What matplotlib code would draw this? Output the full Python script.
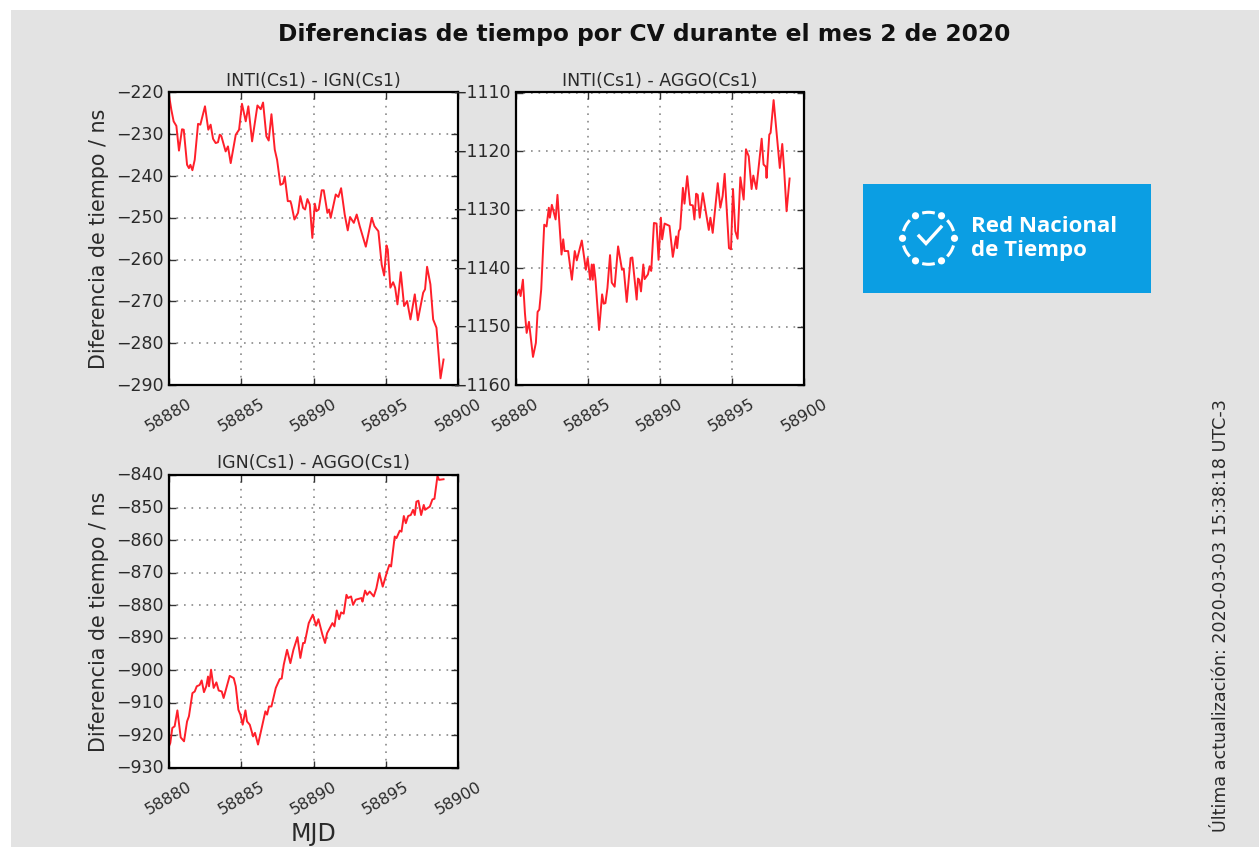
import numpy as np
import matplotlib
matplotlib.use('Agg')
import matplotlib.pyplot as plt
from matplotlib.patches import Rectangle, Circle, Arc
from matplotlib.transforms import ScaledTranslation

W, H = 1259, 847
MJD0 = 58880

titulo = 'Diferencias de tiempo por CV durante el mes 2 de 2020'
actualizacion = 'Última actualización: 2020-03-03 15:38:18 UTC-3'
xticks = [58880, 58885, 58890, 58895, 58900]

# dias desde MJD0, diferencia en ns
dias_a = [0, .16, .32, .51, .69, .90, 1.02, 1.25, 1.38, 1.48, 1.62, 1.78, 2.01, 2.17, 2.49, 2.72, 2.88, 3.05, 3.23, 3.39,
          3.51, 3.62, 3.92, 4.08, 4.27, 4.62, 4.85, 5.05, 5.31, 5.49, 5.75, 6.12, 6.35, 6.51, 6.74, 6.90, 7.09, 7.32, 7.48, 7.71,
          7.89, 8.01, 8.22, 8.40, 8.47, 8.68, 8.93, 9.09, 9.28, 9.42, 9.58, 9.74, 9.92, 10.09, 10.20, 10.36, 10.57, 10.71, 10.96, 11.08,
          11.19, 11.54, 11.72, 11.91, 12.16, 12.37, 12.53, 12.79, 12.99, 13.20, 13.62, 14.03, 14.22, 14.49, 14.72, 14.89, 15.05, 15.14, 15.32, 15.51,
          15.65, 15.81, 16.04, 16.27, 16.48, 16.71, 17.01, 17.22, 17.59, 17.72, 17.86, 18.09, 18.28, 18.51, 18.79, 19.0]
inti_ign = [-220.6, -224.1, -226.9, -228, -233.9, -228.8, -228.9, -237.3, -238.1, -237.3, -238.6, -236.1, -227.5, -227.7, -223.3, -228.9, -227.7, -231.1, -232.1, -231.9,
            -230.1, -230.4, -234.1, -232.9, -236.9, -230.1, -228.9, -222.7, -226.9, -223.3, -231.7, -223.1, -224, -222.4, -230.5, -231.5, -225.2, -233.7, -236.1, -242.1,
            -241.8, -240.1, -246, -246, -246.8, -250.4, -248.8, -244.8, -247.6, -248, -245.5, -246.8, -254.8, -246.6, -248.4, -248, -243.4, -243.4, -248.8, -248,
            -250, -244.4, -245, -242.9, -249.2, -253, -249.8, -251.2, -249.2, -252, -256.9, -250, -252, -253.2, -261.2, -263.8, -256.6, -257.6, -266.7, -265.4,
            -266.7, -270.7, -263, -271.1, -269.9, -274.3, -268.3, -274.5, -267.9, -267.1, -261.7, -265.9, -274.3, -276.3, -288.4, -283.9]

dias_b = [0, .23, .32, .48, .62, .74, .90, 1.18, 1.38, 1.50, 1.62, 1.75, 1.96, 2.12, 2.28, 2.35, 2.49, 2.75, 2.88, 3.16,
          3.28, 3.37, 3.62, 3.88, 4.08, 4.22, 4.57, 4.85, 4.98, 5.15, 5.26, 5.33, 5.40, 5.52, 5.77, 5.98, 6.09, 6.21, 6.35, 6.53,
          6.65, 6.85, 7.09, 7.36, 7.48, 7.69, 7.96, 8.08, 8.38, 8.47, 8.56, 8.68, 8.84, 8.93, 9.16, 9.28, 9.39, 9.58, 9.76, 9.90,
          10.06, 10.15, 10.32, 10.66, 10.89, 11.12, 11.19, 11.31, 11.40, 11.59, 11.70, 11.89, 12.09, 12.28, 12.39, 12.51, 12.62, 12.76, 12.97, 13.39,
          13.50, 13.66, 14.01, 14.19, 14.35, 14.49, 14.79, 14.93, 15.07, 15.23, 15.39, 15.58, 15.81, 15.97, 16.16, 16.36, 16.48, 16.69, 17.06, 17.19,
          17.35, 17.40, 17.59, 17.68, 17.89, 18.32, 18.49, 18.62, 18.79, 19.0]
inti_aggo = [-1144.8, -1143.7, -1144.8, -1142, -1147.7, -1151.1, -1149.2, -1155.2, -1152.8, -1147.5, -1147.1, -1143.7, -1132.6, -1132.9, -1129.7, -1131.4, -1129.2, -1131.7, -1127.5, -1137.7,
             -1135.1, -1137.1, -1137.1, -1142, -1137.1, -1138.7, -1135.3, -1140.3, -1138.3, -1142, -1139.4, -1142, -1139.4, -1142, -1150.6, -1144.5, -1146.1, -1146, -1143.4, -1137.8,
             -1142.5, -1143.2, -1136.3, -1140.3, -1140.1, -1145.8, -1138.3, -1138.2, -1145.4, -1141.8, -1142, -1144, -1139.4, -1141.9, -1141.1, -1139.7, -1140.5, -1132.3, -1132.4, -1138.6,
             -1131.4, -1135.1, -1132.4, -1132.8, -1138.1, -1134.6, -1136.6, -1133.7, -1133.3, -1126.3, -1129, -1124.3, -1129.2, -1129.3, -1131.7, -1127.3, -1127.5, -1131.4, -1127.2, -1133.5,
             -1131.4, -1134, -1125.5, -1129.7, -1127.7, -1123.9, -1136.6, -1136.8, -1126.5, -1133.7, -1135, -1124.5, -1128.3, -1119.7, -1120.9, -1126.5, -1124.2, -1126.5, -1117.9, -1122.3,
             -1122.7, -1124.6, -1117.2, -1116.9, -1111.3, -1122.9, -1118.8, -1123.2, -1130.3, -1124.7]

dias_c = [0, .09, .23, .39, .58, .81, 1.04, 1.25, 1.38, 1.62, 1.78, 1.92, 2.12, 2.26, 2.42, 2.58, 2.70, 2.77, 2.91, 3.09,
          3.28, 3.44, 3.65, 3.78, 4.20, 4.48, 4.62, 4.80, 4.94, 5.10, 5.29, 5.40, 5.59, 5.82, 5.95, 6.16, 6.67, 6.79, 6.92, 7.09,
          7.39, 7.66, 7.80, 7.94, 8.17, 8.40, 8.61, 8.89, 9.09, 9.28, 9.39, 9.67, 9.95, 10.18, 10.34, 10.62, 10.80, 10.94, 11.31, 11.45,
          11.61, 11.77, 11.91, 12.09, 12.28, 12.39, 12.60, 12.74, 12.92, 13.32, 13.39, 13.57, 13.71, 13.89, 14.17, 14.35, 14.56, 14.79, 15.09, 15.25,
          15.37, 15.62, 15.74, 15.97, 16.09, 16.25, 16.39, 16.55, 16.73, 16.89, 17.01, 17.12, 17.26, 17.45, 17.63, 17.72, 18.05, 18.23, 18.37, 18.58,
          18.69, 19.0]
ign_aggo = [-923.3, -922.3, -917.7, -917.2, -912.3, -920.6, -921.8, -915.7, -914.1, -907, -906.5, -904.9, -904.5, -903.1, -906.7, -904.9, -901.9, -904.9, -899.8, -905.4,
            -903.7, -906.2, -906.5, -908.5, -901.7, -902.4, -904.9, -912.1, -913.6, -916.7, -912.3, -915.7, -916.7, -920.3, -919.2, -922.8, -912.6, -913.6, -911.1, -911.1,
            -905.4, -902.7, -902.5, -898.3, -893.7, -897.8, -893.7, -889.8, -896.2, -891.6, -891.6, -885.5, -882.9, -886.3, -884.3, -889.1, -891.6, -888.6, -885.5, -886.5,
            -881.6, -884.3, -882.2, -882.6, -876.8, -877.8, -877.3, -879.9, -878.3, -877.8, -878.9, -875.5, -876.8, -875.8, -877.3, -874.8, -870.2, -874.3, -869.7, -867.6,
            -868.1, -858.9, -859.4, -857.1, -857.4, -852.6, -854.8, -852.6, -852.3, -850.7, -852.3, -848.2, -847.9, -852.3, -849.2, -850.7, -849.7, -847.5, -847.3, -840.3,
            -841.5, -841.3]

TEXTO = '#2a2a2a'
plt.rcParams['font.family'] = ['DejaVu Sans']
plt.rcParams['text.color'] = TEXTO


def caja(x0, y0, x1, y1):
    # caja en pixeles de la imagen -> fracciones de figura
    return [x0 / W, 1 - y1 / H, (x1 - x0) / W, (y1 - y0) / H]


fig = plt.figure(figsize=(W / 100, H / 100), dpi=100, facecolor='white')
fig.patches.append(Rectangle((11 / W, 0), 1 - 11 / W, 1 - 10 / H, transform=fig.transFigure,
                             facecolor='#e3e3e3', edgecolor='none', zorder=-10))


def panel(caja_px, dias, valores, nombre, ylim, ylabel=True):
    ax = fig.add_axes(caja(*caja_px))
    ax.plot(np.array(dias) + MJD0, valores, color='#ff1f2a', lw=1.4)
    ax.set_xlim(58880, 58900)
    ax.set_ylim(*ylim)
    ax.set_xticks(xticks)
    ax.set_yticks(np.arange(ylim[0], ylim[1] + 1, 10))
    ax.ticklabel_format(useOffset=False, style='plain')
    ax.grid(True, color='#8a8a8a', ls=(0, (1, 3.5)), lw=1.2)
    ax.set_axisbelow(True)
    ax.tick_params(direction='in', top=True, right=True, length=5, width=1, colors='#333333',
                   labelcolor=TEXTO, labelsize=12.5)
    ax.tick_params(axis='x', labelsize=11.5, pad=8)
    ax.tick_params(axis='y', pad=4)
    plt.setp(ax.get_xticklabels(), rotation=30, ha='center')
    # las etiquetas de y quedan un poco bajas
    sube = ScaledTranslation(0, 1.5 / 100, fig.dpi_scale_trans)
    for lab in ax.get_yticklabels():
        lab.set_transform(lab.get_transform() + sube)
    for s in ax.spines.values():
        s.set_linewidth(1.6)
    ax.set_title(nombre, fontsize=12.5, pad=5, color=TEXTO)
    if ylabel:
        ax.set_ylabel('Diferencia de tiempo / ns', fontsize=14.9, labelpad=5, color=TEXTO)
    return ax


panel((169, 92.5, 458, 385), dias_a, inti_ign, 'INTI(Cs1) - IGN(Cs1)', (-290, -220))
panel((516, 92.5, 804, 385), dias_b, inti_aggo, 'INTI(Cs1) - AGGO(Cs1)', (-1160, -1110), ylabel=False)
ax3 = panel((169, 475, 458, 768), dias_c, ign_aggo, 'IGN(Cs1) - AGGO(Cs1)', (-930, -840))
ax3.set_xlabel('MJD', fontsize=17, labelpad=3, color=TEXTO)

fig.text(644 / W, 1 - 35 / H, titulo, fontsize=16.8, fontweight='bold', ha='center', va='center', color='#111111')
fig.text(1221 / W, 1 - 616 / H, actualizacion, fontsize=12.65, rotation=90, ha='center', va='center', color=TEXTO)

# logo
logo = fig.add_axes(caja(863, 184, 1151, 293))
logo.set_xlim(863, 1151)
logo.set_ylim(293, 184)
logo.set_facecolor('#0b9ee3')
logo.set_xticks([])
logo.set_yticks([])
for s in logo.spines.values():
    s.set_visible(False)
cx, cy, r = 928.5, 238.3, 26
for ang in range(0, 360, 60):
    logo.add_patch(Circle((cx + r * np.cos(np.radians(ang)), cy + r * np.sin(np.radians(ang))), 3.6,
                          facecolor='white', edgecolor='none'))
    logo.add_patch(Arc((cx, cy), 2 * r, 2 * r, theta1=ang + 16, theta2=ang + 44, color='white', lw=2.2))
logo.plot([919, 926, 941], [236, 243.5, 227], color='white', lw=2.4, solid_joinstyle='miter')
logo.text(971, 227, 'Red Nacional', color='white', fontsize=16, fontweight='bold', family='Open Sans', va='center', ha='left')
logo.text(971, 250.5, 'de Tiempo', color='white', fontsize=16, fontweight='bold', family='Open Sans', va='center', ha='left')

fig.savefig('out.png', dpi=100, facecolor=fig.get_facecolor())
